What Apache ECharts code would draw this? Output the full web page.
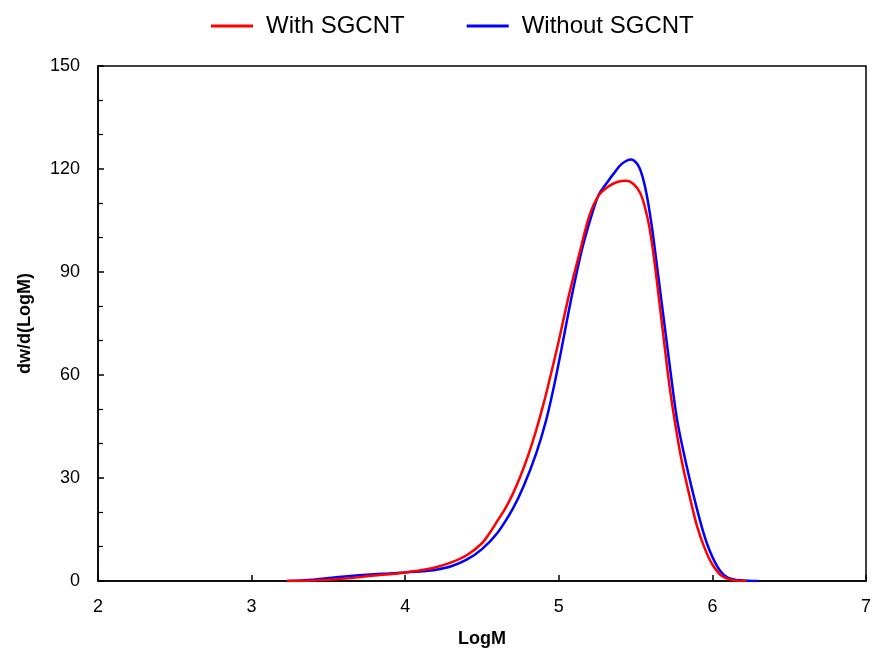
<!DOCTYPE html>
<html>
<head>
<meta charset="utf-8">
<script src="https://cdn.jsdelivr.net/npm/echarts@6/dist/echarts.min.js"></script>
<style>html,body{margin:0;padding:0;background:#fff;}#c{width:874px;height:655px;}</style>
</head>
<body>
<div id="c"></div>
<script>
const seriesNames = ['With SGCNT', 'Without SGCNT'];
const withLogM = [3.23, 3.4, 3.55, 3.7, 3.8, 3.9, 4.0, 4.1, 4.2, 4.3, 4.4, 4.5, 4.55, 4.6, 4.65, 4.7, 4.75, 4.8, 4.85, 4.9, 4.95, 5.0, 5.07, 5.14, 5.2, 5.26, 5.32, 5.38, 5.44, 5.49, 5.53, 5.56, 5.59, 5.62, 5.65, 5.69, 5.72, 5.757, 5.8, 5.85, 5.9, 5.95, 6.0, 6.06, 6.13, 6.22];
const withDw   = [0, 0.15, 0.5, 1.1, 1.6, 2.0, 2.5, 3.1, 4.0, 5.4, 7.5, 11, 14, 17.5, 21, 25.3, 30.5, 36.5, 43.5, 51.5, 60.5, 70, 84, 96.4, 106.5, 112.3, 114.8, 116.2, 116.6, 115.5, 113, 109, 103, 94, 83, 68, 57, 46, 35, 25, 16, 9.5, 4.8, 1.5, 0.3, 0];
const withoutLogM = [3.23, 3.4, 3.55, 3.7, 3.8, 3.9, 4.0, 4.1, 4.2, 4.3, 4.4, 4.5, 4.6, 4.7, 4.77, 4.853, 4.918, 4.97, 5.015, 5.08, 5.15, 5.21, 5.26, 5.31, 5.36, 5.41, 5.47, 5.51, 5.54, 5.57, 5.6, 5.623, 5.65, 5.69, 5.73, 5.77, 5.82, 5.877, 5.92, 5.96, 6.0, 6.05, 6.1, 6.18, 6.3];
const withoutDw   = [0, 0.4, 1.1, 1.7, 2.0, 2.2, 2.5, 2.8, 3.3, 4.3, 6.2, 9.3, 14, 21, 27.5, 37.2, 46.9, 57, 67, 82, 96.4, 106, 112.5, 115.8, 118.8, 121.5, 122.8, 121.5, 118.5, 113, 105, 97.5, 88, 74, 60, 47, 36, 25, 17.5, 11.5, 7, 3, 1.0, 0.2, 0];
const xTicks = { min: 2, max: 7, interval: 1 };
const yTicks = { min: 0, max: 150, interval: 30 };

function zip(a, b) { return a.map((v, i) => [v, b[i]]); }

const chart = echarts.init(document.getElementById('c'), null, { renderer: 'canvas' });
const font = 'Arial, "Liberation Sans", sans-serif';
chart.setOption({
  animation: false,
  backgroundColor: '#fff',
  legend: {
    top: 9,
    left: 206,
    itemWidth: 42,
    itemHeight: 3,
    itemGap: 62,
    icon: 'rect',
    textStyle: { fontSize: 24, color: '#000', fontFamily: font, padding: [0, 0, 0, 8] },
    data: seriesNames
  },
  grid: {
    left: 98, right: 8, top: 66, bottom: 74,
    show: true, borderColor: '#000', borderWidth: 1.5
  },
  xAxis: {
    type: 'value', min: xTicks.min, max: xTicks.max, interval: xTicks.interval,
    name: 'LogM', nameLocation: 'middle', nameGap: 49,
    nameTextStyle: { fontSize: 18, fontWeight: 'bold', color: '#000', fontFamily: font },
    axisLine: { show: true, lineStyle: { color: '#000', width: 1.5 } },
    axisTick: { show: true, inside: true, length: 6, lineStyle: { color: '#000', width: 1.5 } },
    axisLabel: { fontSize: 18, color: '#000', margin: 17, fontFamily: font },
    splitLine: { show: false }
  },
  yAxis: {
    type: 'value', min: yTicks.min, max: yTicks.max, interval: yTicks.interval,
    name: 'dw/d(LogM)', nameLocation: 'middle', nameGap: 64,
    nameTextStyle: { fontSize: 18, fontWeight: 'bold', color: '#000', fontFamily: font },
    axisLine: { show: true, lineStyle: { color: '#000', width: 1.5 } },
    axisTick: { show: true, inside: true, length: 6, lineStyle: { color: '#000', width: 1.5 } },
    minorTick: { show: true, splitNumber: 3, length: 5, lineStyle: { color: '#000', width: 1.2 } },
    axisLabel: { fontSize: 18, color: '#000', margin: 18, fontFamily: font },
    splitLine: { show: false }
  },
  series: [
    {
      name: seriesNames[0], type: 'line', smooth: 0.35, symbol: 'none',
      lineStyle: { color: '#ff0000', width: 2.5 }, itemStyle: { color: '#ff0000' },
      data: zip(withLogM, withDw), z: 3
    },
    {
      name: seriesNames[1], type: 'line', smooth: 0.35, symbol: 'none',
      lineStyle: { color: '#0000ff', width: 2.5 }, itemStyle: { color: '#0000ff' },
      data: zip(withoutLogM, withoutDw), z: 2
    }
  ]
});
</script>
</body>
</html>
